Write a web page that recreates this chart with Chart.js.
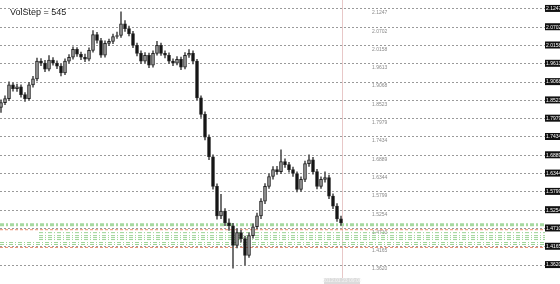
<!DOCTYPE html>
<html><head><meta charset="utf-8">
<script src="https://cdn.jsdelivr.net/npm/chart.js@4.4.0/dist/chart.umd.min.js"></script>
<style>html,body{margin:0;padding:0;background:#fff;}#wrap{width:560px;height:284px;position:relative;}</style>
</head><body><div id="wrap"><canvas id="c" width="560" height="284"></canvas></div>
<script>
const opens = [1.8312,1.8459,1.8576,1.8987,1.8870,1.8928,1.8694,1.8576,1.8987,1.9163,
1.9692,1.9633,1.9457,1.9721,1.9633,1.9545,1.9339,1.9692,1.9809,2.0044,
1.9897,1.9809,1.9750,2.0014,2.0484,2.0308,1.9868,2.0220,2.0279,2.0425,
2.0455,2.0807,2.0660,2.0513,2.0161,1.9926,1.9692,1.9868,1.9574,1.9926,
2.0161,1.9926,1.9868,1.9692,1.9633,1.9750,1.9515,1.9868,1.9926,1.9692,
1.8600,1.8107,1.7432,1.6845,1.5964,1.5084,1.5231,1.4878,1.4790,1.4203,
1.4585,1.4409,1.3910,1.4497,1.4761,1.5084,1.5524,1.5964,1.6258,1.6463,
1.6404,1.6698,1.6610,1.6463,1.6346,1.5876,1.6170,1.6639,1.6757,1.6404,
1.5964,1.6170,1.6228,1.5671,1.5377,1.4996];
const closes = [1.8459,1.8576,1.8987,1.8870,1.8928,1.8694,1.8576,1.8987,1.9163,1.9692,
1.9633,1.9457,1.9721,1.9633,1.9545,1.9339,1.9692,1.9809,2.0044,1.9897,
1.9809,1.9750,2.0014,2.0484,2.0308,1.9868,2.0220,2.0279,2.0425,2.0455,
2.0807,2.0660,2.0513,2.0161,1.9926,1.9692,1.9868,1.9574,1.9926,2.0161,
1.9926,1.9868,1.9692,1.9633,1.9750,1.9515,1.9868,1.9926,1.9692,1.8600,
1.8107,1.7432,1.6845,1.5964,1.5084,1.5231,1.4878,1.4790,1.4203,1.4585,
1.4409,1.3910,1.4497,1.4761,1.5084,1.5524,1.5964,1.6258,1.6463,1.6404,
1.6698,1.6610,1.6463,1.6346,1.5876,1.6170,1.6639,1.6757,1.6404,1.5964,
1.6170,1.6228,1.5671,1.5377,1.4996,1.4878];
const highs = [1.8540,1.8660,1.9080,1.9050,1.9010,1.8990,1.8760,1.9060,1.9240,1.9780,
1.9770,1.9720,1.9860,1.9800,1.9700,1.9610,1.9760,1.9890,2.0120,2.0100,
1.9960,1.9900,2.0090,2.0601,2.0550,2.0370,2.0300,2.0350,2.0500,2.0560,
2.1159,2.0900,2.0740,2.0580,2.0230,2.0000,1.9950,1.9930,2.0000,2.0280,
2.0230,2.0000,1.9940,1.9760,1.9830,1.9810,1.9950,2.0040,2.0000,1.9750,
1.8660,1.8180,1.7500,1.6900,1.6040,1.5729,1.5300,1.5000,1.4860,1.4700,
1.4660,1.4480,1.4580,1.4850,1.5170,1.5600,1.6050,1.6340,1.6550,1.6560,
1.7050,1.6780,1.6680,1.6540,1.6400,1.6250,1.6720,1.6903,1.6830,1.6470,
1.6250,1.6400,1.6300,1.5740,1.5450,1.5080];
const lows = [1.8165,1.8400,1.8520,1.8800,1.8790,1.8620,1.8490,1.8530,1.8920,1.9100,
1.9560,1.9380,1.9400,1.9570,1.9470,1.9250,1.9290,1.9630,1.9750,1.9830,
1.9740,1.9680,1.9700,1.9960,2.0230,1.9800,1.9810,2.0150,2.0210,2.0370,
2.0400,2.0580,2.0440,2.0090,1.9850,1.9620,1.9630,1.9500,1.9510,1.9870,
1.9860,1.9790,1.9620,1.9560,1.9580,1.9440,1.9460,1.9800,1.9610,1.8530,
1.8020,1.7350,1.6760,1.5880,1.4990,1.5000,1.4790,1.4650,1.3528,1.4130,
1.4300,1.3616,1.3850,1.4420,1.4700,1.5000,1.5450,1.5900,1.6180,1.6320,
1.6340,1.6530,1.6390,1.6260,1.5800,1.5810,1.6100,1.6560,1.6330,1.5890,
1.5900,1.6090,1.5600,1.5300,1.4920,1.4800];
const tickValues = [2.1247,2.0702,2.0158,1.9613,1.9068,1.8523,1.7979,1.7434,1.6889,1.6344,1.5799,1.5254,1.4710,1.4165,1.3620];
const tickLabels = ['2.1247','2.0702','2.0158','1.9613','1.9068','1.8523','1.7979','1.7434','1.6889','1.6344','1.5799','1.5254','1.4710','1.4165','1.3620'];
const titleText = 'VolStep = 545';
const greenMainLevel = 1.4820;
const redLevels = [1.4673, 1.4145];
const greenLevels = [1.4585, 1.4497, 1.4438, 1.4380, 1.4291, 1.4232];
const timeLabel = '2012.01.23 09:00';

const N = closes.length;
const X_MIN = -0.25, X_MAX = 136;
const wickData = lows.map((l,i)=>({x:i, y:[l, highs[i]]}));
const bodyData = opens.map((o,i)=>({x:i, y:[Math.min(o,closes[i]), Math.max(o,closes[i])]}));
const bodyColors = opens.map((o,i)=> closes[i] >= o ? '#9c9c9c' : '#111111');

function levelLine(v, startX, color, width, dash){
  return {type:'line', data:[{x:startX,y:v},{x:X_MAX,y:v}], borderColor:color, borderWidth:width,
    borderDash:dash, pointRadius:0, fill:false, order:5};
}
const datasets = [
  levelLine(greenMainLevel, X_MIN, '#a6d9a0', 3, [4,2,2,2]),
  levelLine(redLevels[0], X_MIN, '#ee8c6c', 1, [3,2]),
  levelLine(redLevels[1], X_MIN, '#ee8c6c', 1, [3,2]),
  ...greenLevels.map((v,k)=>levelLine(v, k<4 ? 9.5 : X_MIN, '#9bd395', 1, [4,2,1,2])),
  {type:'bar', data:wickData, backgroundColor:'#555', barThickness:1, grouped:false, order:2},
  {type:'bar', data:bodyData, backgroundColor:bodyColors, borderColor:'#222', borderWidth:1,
    borderSkipped:false, barThickness:3, minBarLength:1, grouped:false, order:1}
];

const overlay = {
  id:'overlay',
  beforeDatasetsDraw(chart){
    const {ctx, scales:{x,y}, chartArea} = chart;
    const px = Math.round(x.getPixelForValue(N-1)) + 1.5;
    ctx.save();
    ctx.strokeStyle = '#e8c8c8'; ctx.lineWidth = 1;
    ctx.beginPath(); ctx.moveTo(px, 0); ctx.lineTo(px, chartArea.bottom); ctx.stroke();
    ctx.font = '5px "Liberation Sans", Arial, sans-serif';
    ctx.fillStyle = '#8a8a8a'; ctx.textBaseline = 'top'; ctx.textAlign = 'left';
    tickValues.forEach((v,i)=>{ ctx.fillText(tickLabels[i], 372, y.getPixelForValue(v)+1.5); });
    ctx.restore();
  },
  afterDraw(chart){
    const {ctx, scales:{x}} = chart;
    const px = x.getPixelForValue(N-1) + 1;
    ctx.save();
    ctx.font = '9px "Liberation Sans", Arial, sans-serif';
    ctx.fillStyle = '#222'; ctx.textBaseline = 'alphabetic'; ctx.textAlign = 'left';
    ctx.fillText(titleText, 10, 15);
    ctx.fillStyle = '#dcdcdc';
    ctx.fillRect(px-18, 278, 36, 6);
    ctx.font = '5px "Liberation Sans", Arial, sans-serif';
    ctx.fillStyle = '#f4f4f4'; ctx.textAlign = 'center'; ctx.textBaseline = 'middle';
    ctx.fillText(timeLabel, px, 281);
    ctx.restore();
  }
};

new Chart(document.getElementById('c'), {
  type:'bar',
  data:{datasets},
  options:{
    responsive:false, animation:false, events:[],
    layout:{padding:{top:0,bottom:6,left:0,right:0}},
    plugins:{legend:{display:false}, tooltip:{enabled:false}, title:{display:false}},
    scales:{
      x:{type:'linear', min:X_MIN, max:X_MAX, display:false, offset:false},
      y:{type:'linear', position:'right', min:1.3235, max:2.1394,
        afterBuildTicks(s){ s.ticks = tickValues.map(v=>({value:v})); },
        afterFit(s){ s.width = 15; },
        grid:{color:'#9a9a9a', lineWidth:1, drawTicks:false},
        border:{display:false, dash:[2,2]},
        ticks:{padding:1, color:'#ffffff', font:{size:5, family:'"Liberation Sans", Arial, sans-serif'},
          showLabelBackdrop:true, backdropColor:'#111', backdropPadding:{left:1,right:1,top:1,bottom:0},
          callback:(v,i)=>tickLabels[i]}
      }
    }
  },
  plugins:[overlay]
});
</script></body></html>
